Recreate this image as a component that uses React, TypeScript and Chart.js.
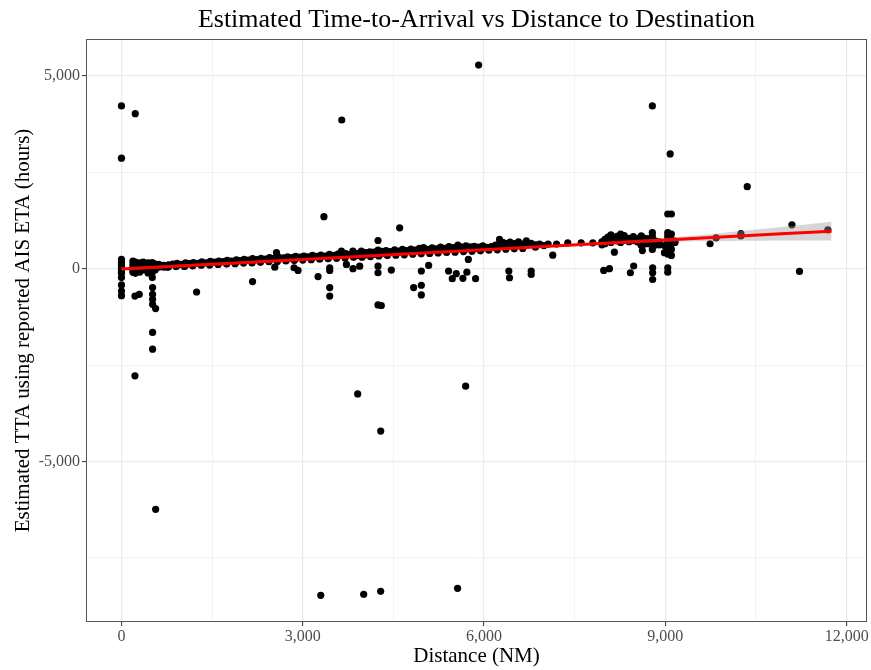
import { useEffect, useRef } from 'react';
import { Chart, registerables } from 'chart.js';

Chart.register(...registerables);

// ---- data (distance NM, TTA hours) ----
const nearOriginPoints: [number, number][] = [
  [0, 240], [0, 170], [0, 110], [0, 60], [0, 20], [0, -20], [0, -60], [0, -120], [0, -230], [0, -420], [0, -580], [0, -700],
  [190, 200], [190, 130], [190, 60], [190, -10], [190, -60], [190, -95],
  [230, 170], [230, 90], [230, 20], [230, -50], [230, -120],
  [300, 150], [300, 60], [300, -20], [300, -90],
  [360, 170], [360, 110], [360, 40], [360, -30],
  [440, 150], [440, 80], [440, 10], [440, -50], [440, -110],
  [510, 160], [510, 100], [510, 40], [510, -30], [510, -90], [510, -230],
  [560, 120], [560, 50], [560, -30],
  [620, 110], [620, 40],
];

const bandPointsWest: [number, number][] = [
  [700, 90], [700, 40], [780, 100], [780, 50], [850, 120], [920, 140], [920, 75], [990, 110],
  [1060, 150], [1060, 90], [1120, 130], [1190, 160], [1190, 110], [1260, 140], [1330, 175], [1330, 120],
  [1400, 150], [1470, 190], [1470, 130], [1540, 170], [1610, 200], [1610, 150], [1680, 185], [1750, 215],
  [1750, 160], [1820, 200], [1900, 230], [1900, 175], [1960, 210], [2030, 245], [2030, 190], [2100, 225],
  [2170, 260], [2170, 200], [2240, 235], [2310, 270], [2310, 215], [2380, 250], [2450, 290], [2450, 230],
  [2520, 270], [2565, 415], [2600, 300], [2600, 245], [2680, 280], [2750, 310], [2750, 255], [2820, 290],
  [2880, 320], [2880, 260], [2950, 300], [3020, 330], [3020, 275], [3090, 310], [3160, 345], [3160, 285],
  [3230, 320], [3300, 355], [3300, 295], [3370, 330], [3440, 370], [3440, 310], [3510, 345], [3580, 380],
  [3580, 320], [3640, 455], [3640, 360], [3710, 395], [3710, 335], [3780, 375], [3830, 455], [3830, 410],
  [3900, 390], [3900, 340], [3970, 455], [3970, 400], [4040, 420], [4040, 360], [4110, 440], [4110, 380],
];

const bandPointsMid: [number, number][] = [
  [4180, 430], [4180, 370], [4245, 480], [4245, 410], [4310, 450], [4310, 390], [4380, 470], [4380, 400],
  [4450, 445], [4520, 490], [4520, 420], [4590, 460], [4650, 500], [4650, 430], [4720, 470], [4790, 510],
  [4790, 440], [4860, 485], [4930, 530], [4930, 455], [5000, 545], [5000, 480], [5070, 500], [5140, 540],
  [5140, 470], [5210, 515], [5280, 560], [5280, 490], [5350, 530], [5420, 575], [5420, 500], [5490, 545],
  [5567, 610], [5567, 520], [5630, 560], [5700, 590], [5700, 510], [5770, 570], [5840, 580], [5840, 520],
  [5910, 560], [5980, 590], [5980, 530], [6050, 555], [6120, 575], [6190, 610], [6190, 545], [6256, 760],
  [6256, 640], [6320, 680], [6320, 600], [6380, 650], [6380, 580], [6430, 690], [6430, 620], [6500, 650],
  [6500, 570], [6570, 700], [6570, 610], [6640, 640], [6700, 720], [6700, 630], [6780, 660], [6850, 620],
  [6850, 560], [6920, 640], [6990, 600], [7060, 640], [7200, 640], [7385, 672], [7607, 670], [7800, 672],
];

const bandLowerRow: [number, number][] = [
  [760, 40], [900, 55], [1040, 60], [1180, 75], [1320, 90], [1460, 95], [1600, 110], [1740, 120],
  [1880, 130], [2020, 145], [2160, 150], [2300, 165], [2440, 180], [2580, 185], [2720, 200], [2860, 210],
  [3000, 225], [3140, 235], [3280, 245], [3420, 260], [3560, 270], [3700, 280], [3840, 295], [3980, 300],
  [4120, 315], [4260, 330], [4400, 340], [4540, 350], [4680, 360], [4820, 375], [4960, 385], [5100, 395],
  [5240, 410], [5380, 420], [5520, 430], [5660, 445], [5800, 455], [5940, 465], [6080, 480], [6220, 490],
  [6360, 505], [6500, 515], [6640, 525],
];

const bandPointsEast: [number, number][] = [
  [7950, 700], [7950, 620], [8000, 760], [8000, 650], [8050, 820], [8050, 710], [8100, 880], [8100, 780],
  [8100, 680], [8200, 840], [8200, 720], [8260, 900], [8260, 790], [8260, 680], [8320, 860], [8320, 740],
  [8400, 790], [8400, 700], [8470, 830], [8470, 730], [8540, 780], [8540, 690], [8600, 850], [8600, 720],
  [8600, 610], [8620, 820], [8620, 700], [8620, 600], [8620, 470], [8700, 780], [8700, 650], [8785, 940],
  [8785, 850], [8785, 760], [8785, 680], [8785, 600], [8785, 500], [8830, 720], [8830, 610], [8900, 700],
  [8900, 620], [8985, 415], [8985, 600], [9040, 940], [9040, 860], [9040, 780], [9040, 700], [9040, 620],
  [9040, 540], [9040, 460], [9040, 380], [9100, 900], [9100, 760], [9100, 640], [9100, 500], [9100, 345],
  [9160, 715], [9160, 680],
];

const outlierPoints: [number, number][] = [
  [0, 4224], [0, 2870], [228, 4025], [223, -710], [294, -665], [223, -2780], [515, -490], [515, -665],
  [515, -795], [515, -925], [565, -1035], [515, -1655], [515, -2090], [565, -6245], [1243, -605],
  [2169, -335], [2537, 40], [2856, 25], [2922, -45], [3253, -205], [3446, 25], [3446, -45], [3446, -490],
  [3446, -710], [3350, 1350], [3298, -8477], [3645, 3860], [3722, 110], [3831, 0], [3909, -3250],
  [3942, 65], [4008, -8450], [4245, 732], [4245, 65], [4245, -105], [4245, -940], [4300, -955],
  [4289, -8373], [4290, -4215], [4466, -35], [4603, 1060], [4835, -490], [4962, -60], [4962, -430],
  [4962, -680], [5083, 85], [5413, -60], [5474, -260], [5540, -130], [5562, -8295], [5650, -250],
  [5695, -3050], [5716, -90], [5740, 240], [5860, -260], [5910, 5285], [6410, -60], [6421, -235],
  [6780, -60], [6780, -150], [7137, 350], [7980, -45], [8075, 0], [8157, 430], [8421, -105], [8476, 70],
  [8785, 4225], [8790, 25], [8790, -105], [8790, -280], [9040, 25], [9040, -90], [9080, 2980],
  [9040, 1420], [9100, 1420], [9740, 647], [9840, 800], [10250, 913], [10250, 850], [10355, 2130],
  [11095, 1138], [11220, -70], [11690, 1009],
];

// linear fit with confidence ribbon
const fitX = [0, 3000, 6000, 8000, 9000, 10000, 11000, 11750];
const fitY = [-10, 241, 493, 661, 745, 829, 913, 975];
const ciUpper = [30, 266, 513, 696, 795, 939, 1093, 1220];
const ciLower = [-50, 216, 473, 626, 695, 719, 733, 730];

// axes
const xTickValues = [0, 1500, 3000, 4500, 6000, 7500, 9000, 10500, 12000];
const xMajorStep = 3000;
const yTickValues = [-7500, -5000, -2500, 0, 2500, 5000];
const yMajorStep = 5000;

const TITLE = 'Estimated Time-to-Arrival vs Distance to Destination';
const X_TITLE = 'Distance (NM)';
const Y_TITLE = 'Estimated TTA using reported AIS ETA (hours)';

const SERIF = "'Liberation Serif', 'Times New Roman', serif";

const fmt = (v: number) => v.toLocaleString('en-US');

export default function App() {
  const ref = useRef<HTMLCanvasElement>(null);

  useEffect(() => {
    document.body.style.margin = '0';
    const canvas = ref.current;
    if (!canvas) return;

    const toXY = (arr: [number, number][]) => arr.map(([x, y]) => ({ x, y }));
    const allPoints = [
      ...toXY(nearOriginPoints),
      ...toXY(bandPointsWest),
      ...toXY(bandPointsMid),
      ...toXY(bandLowerRow),
      ...toXY(bandPointsEast),
      ...toXY(outlierPoints),
    ];

    const titlePlugin = {
      id: 'panelTitle',
      afterDraw(chart: any) {
        const { ctx, chartArea } = chart;
        ctx.save();
        ctx.font = `26px ${SERIF}`;
        ctx.fillStyle = '#000';
        ctx.textAlign = 'center';
        ctx.textBaseline = 'alphabetic';
        ctx.fillText(TITLE, (chartArea.left + chartArea.right) / 2, 27);
        ctx.restore();
      },
    };

    const borderPlugin = {
      id: 'panelBorder',
      afterDraw(chart: any) {
        const { ctx, chartArea } = chart;
        ctx.save();
        ctx.strokeStyle = '#555555';
        ctx.lineWidth = 1;
        ctx.strokeRect(
          Math.round(chartArea.left) + 0.5,
          Math.round(chartArea.top) + 0.5,
          Math.round(chartArea.right - chartArea.left) - 1,
          Math.round(chartArea.bottom - chartArea.top) - 1
        );
        ctx.restore();
      },
    };

    const chart = new Chart(canvas, {
      type: 'scatter',
      data: {
        datasets: [
          {
            type: 'line',
            label: 'fit',
            data: fitX.map((x, i) => ({ x, y: fitY[i] })),
            borderColor: '#ff0000',
            borderWidth: 3,
            pointRadius: 0,
            fill: false,
            tension: 0,
          } as any,
          {
            type: 'line',
            label: 'upper',
            data: fitX.map((x, i) => ({ x, y: ciUpper[i] })),
            borderWidth: 0,
            borderColor: 'rgba(0,0,0,0)',
            pointRadius: 0,
            fill: '+1',
            backgroundColor: 'rgba(153,153,153,0.4)',
            tension: 0.3,
          } as any,
          {
            type: 'line',
            label: 'lower',
            data: fitX.map((x, i) => ({ x, y: ciLower[i] })),
            borderWidth: 0,
            borderColor: 'rgba(0,0,0,0)',
            pointRadius: 0,
            fill: false,
            tension: 0.3,
          } as any,
          {
            type: 'scatter',
            label: 'points',
            data: allPoints,
            backgroundColor: '#000000',
            borderWidth: 0,
            pointRadius: 3.6,
          } as any,
        ],
      },
      options: {
        responsive: false,
        animation: false,
        devicePixelRatio: 1,
        layout: { padding: { top: 39, right: 4, left: 0, bottom: 0 } },
        plugins: {
          legend: { display: false },
          tooltip: { enabled: false },
          title: { display: false },
        },
        scales: {
          x: {
            type: 'linear',
            min: -587,
            max: 12337,
            afterBuildTicks: (s: any) => {
              s.ticks = xTickValues.map((v) => ({ value: v }));
            },
            afterFit: (s: any) => {
              s.height = 48;
            },
            border: { display: false },
            grid: {
              color: '#ebebeb',
              lineWidth: (c: any) => (c.tick && c.tick.value % xMajorStep === 0 ? 1.2 : 0.6),
              drawTicks: true,
              tickLength: 4,
              tickColor: (c: any) => (c.tick && c.tick.value % xMajorStep === 0 ? '#333333' : 'rgba(0,0,0,0)'),
              tickWidth: 1,
            },
            ticks: {
              autoSkip: false,
              maxRotation: 0,
              padding: 1,
              color: '#4d4d4d',
              font: { family: SERIF, size: 16 },
              callback: (v: any) => (Number(v) % xMajorStep === 0 ? fmt(Number(v)) : ''),
            },
            title: {
              display: true,
              text: X_TITLE,
              color: '#000',
              font: { family: SERIF, size: 21 },
              padding: { top: 1, bottom: 1 },
            },
          },
          y: {
            type: 'linear',
            min: -9170,
            max: 5962,
            afterBuildTicks: (s: any) => {
              s.ticks = yTickValues.map((v) => ({ value: v }));
            },
            afterFit: (s: any) => {
              s.width = 86;
            },
            border: { display: false },
            grid: {
              color: '#ebebeb',
              lineWidth: (c: any) => (c.tick && c.tick.value % yMajorStep === 0 ? 1.2 : 0.6),
              drawTicks: true,
              tickLength: 4,
              tickColor: (c: any) => (c.tick && c.tick.value % yMajorStep === 0 ? '#333333' : 'rgba(0,0,0,0)'),
              tickWidth: 1,
            },
            ticks: {
              autoSkip: false,
              padding: 2,
              color: '#4d4d4d',
              font: { family: SERIF, size: 16 },
              callback: (v: any) => (Number(v) % yMajorStep === 0 ? fmt(Number(v)) : ''),
            },
            title: {
              display: true,
              text: Y_TITLE,
              color: '#000',
              font: { family: SERIF, size: 21 },
              padding: { top: 11, bottom: 10 },
            },
          },
        },
      },
      plugins: [titlePlugin, borderPlugin],
    });

    return () => chart.destroy();
  }, []);

  return (
    <div style={{ position: 'absolute', left: 0, top: 0, width: 871, height: 670, background: '#fff' }}>
      <canvas ref={ref} width={871} height={670} style={{ display: 'block' }} />
    </div>
  );
}
